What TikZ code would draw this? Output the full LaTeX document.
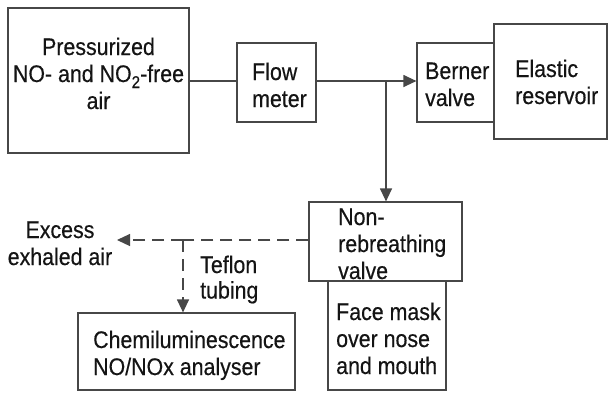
\documentclass[tikz,border=0pt]{standalone}
\usepackage{fontspec}
\setmainfont[FakeStretch=0.89,FakeBold=0.4]{Liberation Sans}
\usetikzlibrary{arrows.meta}
\newcommand\txtL[1]{\begin{tabular}[t]{@{}l@{}}#1\end{tabular}}
\newcommand\txtC[1]{\begin{tabular}[t]{@{}c@{}}#1\end{tabular}}
\begin{document}
\begin{tikzpicture}[x=1pt,y=-1pt,
  box/.style={draw=black!72,line width=1.2pt,rectangle,inner sep=0pt},
  lbl/.style={inner sep=0pt,anchor=base west,text=black!92,font=\fontsize{24}{27}\selectfont},
  lblc/.style={lbl,anchor=base},
  conn/.style={draw=black!72,line width=1.2pt},
  tip/.style={-{Triangle[length=13pt,width=12pt]}},
  arr/.style={conn,tip},
  dsh/.style={conn,dash pattern=on 12pt off 7pt}]
\useasboundingbox (0,0) rectangle (609,392);
\fill[white] (0,0) rectangle (609,392);
% boxes
\node[box,minimum width=181pt,minimum height=145pt] (air) at (98.5,80.5) {};
\node[box,minimum width=79pt,minimum height=79pt] (flow) at (276.5,82.5) {};
\node[box,minimum width=77pt,minimum height=79pt] (berner) at (455.5,82.5) {};
\node[box,minimum width=113pt,minimum height=115pt] (res) at (550.5,81.5) {};
\node[box,minimum width=153pt,minimum height=79pt] (nrv) at (385.5,241.5) {};
\node[box,minimum width=118pt,minimum height=109pt] (mask) at (387,335.5) {};
\node[box,minimum width=217pt,minimum height=77pt] (chem) at (186.5,351.5) {};
% labels
\node[lblc] (tair) at (98.5,55) {\txtC{Pressurized\\NO- and NO\raisebox{-6pt}{\fontsize{17}{17}\selectfont 2}-free\\air}};
\node[lbl] (tflow) at (252,80) {\txtL{Flow\\meter}};
\node[lbl] (tberner) at (425,79) {\txtL{Berner\\valve}};
\node[lbl] (tres) at (515,77) {\txtL{Elastic\\reservoir}};
\node[lbl] (tnrv) at (338,225) {\txtL{Non-\\rebreathing\\valve}};
\node[lbl] (tmask) at (336,320) {\txtL{Face mask\\over nose\\and mouth}};
\node[lbl] (tchem) at (93,348) {\txtL{Chemiluminescence\\NO/NOx analyser}};
\node[lblc] (texcess) at (60,238) {\txtC{Excess\\exhaled air}};
\node[lbl,font=\fontsize{24}{25.5}\selectfont] (tteflon) at (200,273) {\txtL{Teflon\\tubing}};
% junction coordinates
\coordinate (J) at (386,81);
\coordinate (K) at (183,240);
\coordinate (E) at (117,240);
% connectors
\draw[conn] (air.east |- J) -- (flow.west |- J);
\draw[arr] (flow.east |- J) -- (berner.west |- J);
\draw[arr] (J) -- (nrv.north -| J);
\draw[dsh] (nrv.west |- K) -- (K);
\draw[dsh,tip] (K) -- (E);
\draw[dsh,tip] (K) -- (chem.north -| K);
\end{tikzpicture}
\end{document}
